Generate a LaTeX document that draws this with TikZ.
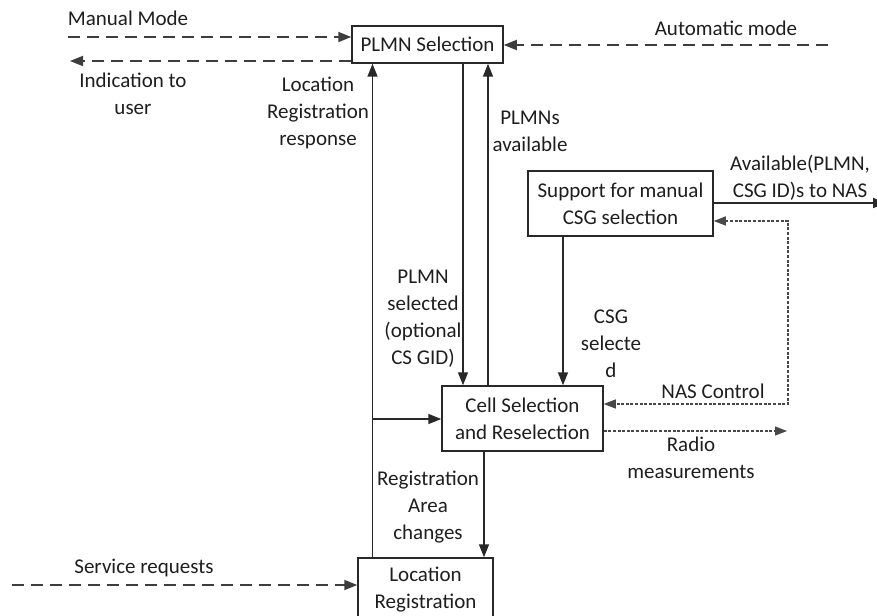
\documentclass[tikz,border=0pt]{standalone}
\usepackage{fontspec}
\setmainfont{Carlito}
\usetikzlibrary{arrows.meta}

\definecolor{ink}{RGB}{30,30,30}
\definecolor{edge}{RGB}{40,40,40}

\tikzset{
  box/.style={draw=edge, line width=1.5pt, fill=white, align=center, inner sep=0pt,
              text=ink, font=\fontsize{21}{27}\selectfont},
  lbl/.style={align=center, inner sep=0pt, text=ink, font=\fontsize{21}{27}\selectfont},
  solidline/.style={draw=edge, line width=1.6pt},
  dashline/.style={draw=edge!90!white, line width=1.8pt, dash pattern=on 12pt off 7pt},
  dotline/.style={draw=edge!85!white, line width=1.2pt, dash pattern=on 3pt off 1.6pt},
  tip/.tip={Triangle[length=13pt, width=10pt]},
  smalltip/.tip={Triangle[length=12pt, width=9pt]}
}

\begin{document}
\begin{tikzpicture}[x=1pt, y=-1pt]
  \clip (0,0) rectangle (877,615);

  % processing blocks
  \node[box, minimum width=151pt, minimum height=37pt] (plmn) at (427.5,44.5) {PLMN Selection};
  \node[box, minimum width=185pt, minimum height=65pt] (csg) at (620.5,203.5) {Support for manual\\CSG selection};
  \node[box, minimum width=161pt, minimum height=65pt] (cell) at (522.5,418.5) {Cell Selection\\and Reselection};
  \node[box, minimum width=135pt, minimum height=64pt] (loc) at (425.5,590) {Location\\Registration};

  % helper points for the connectors
  \coordinate (mm) at (68,37);
  \coordinate (ind) at (70,61);
  \coordinate (auto) at (828,45);
  \coordinate (lrx) at (372.5,0);
  \coordinate (branch) at (372.5,419);
  \coordinate (psx) at (463,0);
  \coordinate (pax) at (488,0);
  \coordinate (csx) at (563,0);
  \coordinate (rax) at (484,0);
  \coordinate (avail) at (886,203);
  \coordinate (nastop) at (788,221);
  \coordinate (nasbot) at (788,404);
  \coordinate (radio) at (787,431);
  \coordinate (serv) at (12,585);

  % dashed external inputs and outputs
  \draw[dashline, -tip] (mm) -- (mm -| plmn.west);
  \draw[dashline, -tip] (plmn.west |- ind) -- (ind);
  \draw[dashline, -tip] (auto) -- (auto -| plmn.east);
  \draw[dashline, -tip] (serv) -- (serv -| loc.west);

  % solid flows between blocks
  \draw[solidline, -tip] (loc.north -| lrx) -- (plmn.south -| lrx);
  \draw[solidline, -tip] (branch) -- (branch -| cell.west);
  \draw[solidline, -tip] (plmn.south -| psx) -- (cell.north -| psx);
  \draw[solidline, -tip] (cell.north -| pax) -- (plmn.south -| pax);
  \draw[solidline, -tip] (csg.south -| csx) -- (cell.north -| csx);
  \draw[solidline, -tip] (cell.south -| rax) -- (loc.north -| rax);
  \draw[solidline, -tip] (csg.east |- avail) -- (avail);

  % dotted NAS control and radio measurements
  \draw[dotline, smalltip-smalltip] (csg.east |- nastop) -- (nastop) -- (nasbot) -- (nasbot -| cell.east);
  \draw[dotline, -smalltip] (cell.east |- radio) -- (radio);

  % labels
  \node[lbl] (lmanual) at (128,18) {Manual Mode};
  \node[lbl] (lauto) at (726,28) {Automatic mode};
  \node[lbl] (lind) at (133,94) {Indication to\\user};
  \node[lbl] (llrr) at (318,113) {Location\\Registration\\response};
  \node[lbl] (lavail) at (530,131.5) {PLMNs\\available};
  \node[lbl] (lnas) at (800,177.5) {Available(PLMN,\\CSG ID)s to NAS};
  \node[lbl] (lsel) at (423,318.5) {PLMN\\selected\\(optional\\CS GID)};
  \node[lbl] (lcsg) at (611,343.5) {CSG\\selecte\\d};
  \node[lbl] (lnasc) at (713,391) {NAS Control};
  \node[lbl] (lradio) at (691,458) {Radio\\measurements};
  \node[lbl] (lrac) at (428,507) {Registration\\Area\\changes};
  \node[lbl] (lserv) at (144,568) {Service requests};
\end{tikzpicture}
\end{document}
